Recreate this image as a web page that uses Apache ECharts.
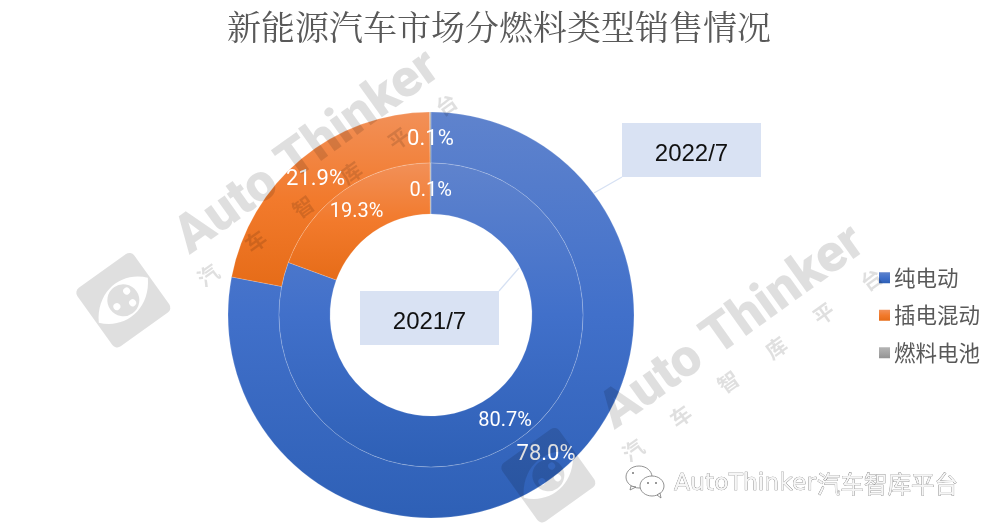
<!DOCTYPE html>
<html>
<head>
<meta charset="utf-8">
<title>新能源汽车市场分燃料类型销售情况</title>
<style>
  html, body { margin: 0; padding: 0; background: #fff; }
  #main { width: 990px; height: 526px; }
</style>
<script src="https://cdn.jsdelivr.net/npm/echarts@6/dist/echarts.min.js"></script>
</head>
<body>
<div id="main"></div>
<script>
  const chartTitle = '新能源汽车市场分燃料类型销售情况'
  const categories = ['纯电动', '插电混动', '燃料电池']
  const values2021 = [80.7, 19.3, 0.1]
  const values2022 = [78.0, 21.9, 0.1]
  const periods = ['2021/7', '2022/7']
  const footerLatin = 'AutoThinker'
  const footerCjk = '汽车智库平台'

  const sansFont = '"Liberation Sans", Arial, sans-serif'
  const cjkFont = '"Noto Sans CJK SC", sans-serif'
  const waterColor = 'rgba(0, 0, 0, 0.125)'

  // 饼图标签相对默认位置略往下
  const labelShift = [0, 3, 5]

  // graphic 组件没有 path 类型，logo 要先注册成 shape
  const logoPath =
    'M-29 -36 H29 A6 6 0 0 1 35 -30 V30 A6 6 0 0 1 29 36 H-29 A6 6 0 0 1 -35 30 V-30 A6 6 0 0 1 -29 -36 Z ' +
    'M-33 4 C-16 24 16 24 33 -4 C16 -24 -16 -24 -33 4 Z ' +
    'M0 -16 A16 16 0 0 1 0 16 A16 16 0 0 1 0 -16 Z ' +
    'M-9 -2 A3.5 3.5 0 0 0 -9 5 A3.5 3.5 0 0 0 -9 -2 Z ' +
    'M8 -9 A3.5 3.5 0 0 0 8 -2 A3.5 3.5 0 0 0 8 -9 Z ' +
    'M6 4 A3.5 3.5 0 0 0 6 11 A3.5 3.5 0 0 0 6 4 Z'
  echarts.graphic.registerShape('logoMark', echarts.graphic.extendPath(logoPath, {}))

  function shade (top, mid, bottom) {
    return {
      type: 'linear', x: 0, y: 0, x2: 0, y2: 1,
      colorStops: [
        {offset: 0, color: top},
        {offset: 0.5, color: mid},
        {offset: 1, color: bottom}
      ]
    }
  }

  const fills = [
    shade('#5f83cd', '#4170ca', '#2e60b6'),
    shade('#f29058', '#f27a2c', '#e66c18'),
    shade('#b4b4b4', '#a5a5a5', '#939393')
  ]

  function ringSeries (name, values, inner, outer, fontSize) {
    return {
      name,
      type: 'pie',
      center: [431, 315],
      radius: [inner, outer],
      startAngle: 90,
      avoidLabelOverlap: false,
      emphasis: {disabled: true},
      itemStyle: {borderColor: 'rgba(255, 255, 255, 0.35)', borderWidth: 0.5},
      label: {
        position: 'inside',
        color: '#fff',
        fontFamily: 'Roboto, ' + sansFont,
        fontSize,
        formatter: params => params.value.toFixed(1) + '%'
      },
      labelLine: {show: false},
      data: categories.map((cat, i) => ({
        name: cat,
        value: values[i],
        itemStyle: {color: fills[i]},
        label: {offset: [0, labelShift[i]]}
      }))
    }
  }

  // 水印：旋转的 logo + 文字，叠在图表上方
  function watermark (x, y) {
    const smallChars = '汽车智库平台'.split('').map((ch, i) => ({
      type: 'text',
      x: 9.5 + 58.6 * i,
      y: 23,
      z: 100,
      silent: true,
      style: {
        text: ch,
        fill: waterColor,
        font: 'bold 21px ' + cjkFont,
        align: 'center',
        verticalAlign: 'middle'
      }
    }))
    return {
      type: 'group',
      x,
      y,
      rotation: 35.6 * Math.PI / 180,
      silent: true,
      children: [
        {
          type: 'text',
          x: 6,
          y: 9,
          z: 100,
          style: {
            text: 'Auto Thinker',
            fill: waterColor,
            font: '900 53px Roboto, ' + sansFont,
            align: 'left',
            verticalAlign: 'bottom'
          }
        },
        {
          type: 'logoMark',
          x: -74,
          y: -6,
          z: 100,
          style: {fill: waterColor}
        }
      ].concat(smallChars)
    }
  }

  function periodBox (left, top, text, line) {
    return [
      {
        type: 'line',
        z: 110,
        silent: true,
        shape: line,
        style: {stroke: '#d6e1f3', lineWidth: 1.2}
      },
      {
        type: 'rect',
        z: 110,
        silent: true,
        shape: {x: left, y: top, width: 139, height: 54},
        style: {fill: '#d9e2f3'}
      },
      {
        type: 'text',
        z: 111,
        silent: true,
        x: left + 69.5,
        y: top + 31,
        style: {
          text,
          fill: '#111',
          font: '24px ' + sansFont,
          align: 'center',
          verticalAlign: 'middle'
        }
      }
    ]
  }

  const bubbleStyle = {fill: '#fff', stroke: '#777', lineWidth: 0.8}
  const eyeStyle = {fill: '#777'}
  const footerStyle = {fill: '#f6f6f6', stroke: '#707070', lineWidth: 0.6, align: 'left', verticalAlign: 'middle'}
  const footer = [
    {type: 'ellipse', z: 120, silent: true, shape: {cx: 639, cy: 477, rx: 13, ry: 11}, style: bubbleStyle},
    {type: 'polygon', z: 120, silent: true, shape: {points: [[631, 486], [630, 490], [636, 487]]}, style: bubbleStyle},
    {type: 'circle', z: 120, silent: true, shape: {cx: 633, cy: 473, r: 1}, style: eyeStyle},
    {type: 'ellipse', z: 121, silent: true, shape: {cx: 652, cy: 486, rx: 12, ry: 10}, style: bubbleStyle},
    {type: 'polygon', z: 121, silent: true, shape: {points: [[657, 495], [661, 498], [660, 493]]}, style: bubbleStyle},
    {type: 'circle', z: 122, silent: true, shape: {cx: 648, cy: 483, r: 1}, style: eyeStyle},
    {type: 'circle', z: 122, silent: true, shape: {cx: 656, cy: 483, r: 1}, style: eyeStyle},
    {type: 'text', z: 122, silent: true, x: 674, y: 484, style: Object.assign({
      text: footerLatin,
      font: '23.5px "DejaVu Sans", sans-serif'
    }, footerStyle)},
    {type: 'text', z: 122, silent: true, x: 817, y: 484, style: Object.assign({
      text: footerCjk,
      font: '23.5px ' + cjkFont
    }, footerStyle)}
  ]

  const chart = echarts.init(document.getElementById('main'))
  chart.setOption({
    animation: false,
    backgroundColor: '#fff',
    title: {
      text: chartTitle,
      left: 222,
      top: 5,
      textStyle: {
        color: '#595959',
        fontFamily: '"Noto Serif CJK SC", ' + cjkFont,
        fontWeight: 'normal',
        fontSize: 34
      }
    },
    legend: {
      orient: 'vertical',
      left: 874,
      top: 262,
      itemWidth: 11,
      itemHeight: 11,
      itemGap: 16,
      itemStyle: {borderWidth: 0},
      icon: 'rect',
      selectedMode: false,
      data: categories,
      textStyle: {
        color: '#595959',
        fontFamily: cjkFont,
        fontSize: 21.5,
        padding: [0, 0, 0, -1]
      }
    },
    series: [
      ringSeries(periods[1], values2022, 152, 203, 22),
      ringSeries(periods[0], values2021, 101, 152, 20)
    ],
    graphic: [
      watermark(187, 262),
      watermark(612, 437)
    ]
      .concat(periodBox(622, 123, periods[1], {x1: 622, y1: 177, x2: 594, y2: 193}))
      .concat(periodBox(360, 291, periods[0], {x1: 499, y1: 291, x2: 519, y2: 268}))
      .concat(footer)
  })
</script>
</body>
</html>
